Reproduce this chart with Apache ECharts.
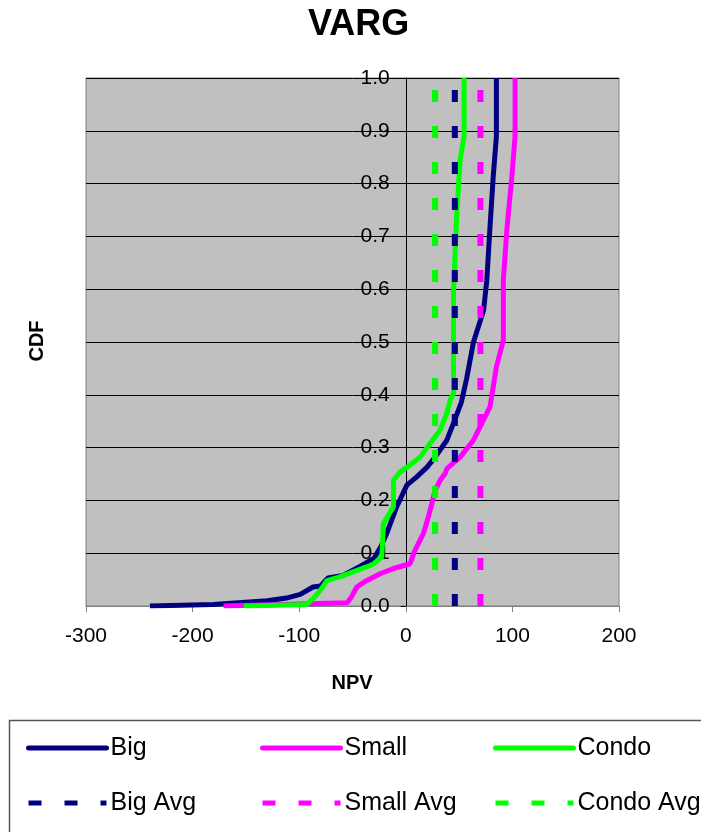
<!DOCTYPE html>
<html>
<head>
<meta charset="utf-8">
<title>VARG</title>
<script src="https://cdn.jsdelivr.net/npm/echarts@6/dist/echarts.min.js"></script>
<style>
  html, body { margin: 0; padding: 0; background: #fff; }
  #main { width: 701px; height: 832px; }
</style>
</head>
<body>
<div id="main"></div>
<script>
// series names, in legend order
var seriesNames = ['Big', 'Small', 'Condo', 'Big Avg', 'Small Avg', 'Condo Avg'];
var seriesColors = ['#000080', '#FF00FF', '#00FF00'];

// CDF curves, [NPV, cumulative probability]
var bigCdf = [[-240, 0], [-181, 0.003], [-130, 0.01], [-112, 0.015], [-99, 0.022], [-87, 0.036],
	[-80, 0.038], [-73, 0.053], [-59, 0.058], [-43, 0.075], [-30, 0.09], [-24, 0.11], [-18, 0.137],
	[-8.5, 0.188], [1, 0.229], [10, 0.244], [20, 0.263], [27.5, 0.282], [38.5, 0.314], [44.7, 0.346],
	[52, 0.385], [57, 0.43], [63.5, 0.5], [73, 0.56], [76, 0.617], [79, 0.718], [82, 0.813],
	[85, 0.89], [85, 1.0]];
var smallCdf = [[-171, 0], [-55, 0.006], [-51, 0.017], [-46, 0.036], [-37, 0.048], [-24, 0.061],
	[-11.6, 0.071], [4, 0.08], [8.7, 0.106], [16.5, 0.137], [21.2, 0.169], [24.4, 0.194], [27.5, 0.219],
	[32.2, 0.238], [36.9, 0.251], [38.5, 0.26], [51, 0.282], [63.5, 0.314], [72.8, 0.352], [79, 0.377],
	[85, 0.453], [91.5, 0.503], [91.5, 0.617], [95, 0.718], [99.5, 0.813], [102.5, 0.89], [102.5, 1.0]];
var condoCdf = [[-152, 0], [-93, 0.003], [-87, 0.014], [-80, 0.03], [-74, 0.048], [-62, 0.055],
	[-37, 0.074], [-30, 0.08], [-22.5, 0.093], [-21, 0.156], [-16.3, 0.172], [-11.6, 0.188],
	[-11.6, 0.238], [-5.3, 0.254], [4, 0.267], [13.4, 0.282], [22.8, 0.308], [32.2, 0.333],
	[38.5, 0.365], [41.6, 0.39], [44.7, 0.402], [44.7, 0.592], [46, 0.655], [48, 0.75], [51, 0.845],
	[54.7, 0.89], [54.7, 1.0]];

// average NPV of each
var avgValues = [46, 70, 27.5];

// axes
var npvTicks = [-300, -200, -100, 0, 100, 200];
var cdfTicks = [0, 0.1, 0.2, 0.3, 0.4, 0.5, 0.6, 0.7, 0.8, 0.9, 1.0];

var font = "'Liberation Sans', Arial, sans-serif";
var myChart = echarts.init(document.getElementById('main'));

var gridLeft = 86, gridRight = 82;
// the y axis sits at NPV = 0, so shift it right from the grid's left edge
var plotWidth = 701 - gridLeft - gridRight;
var yAxisShift = (0 - npvTicks[0]) / (npvTicks[npvTicks.length - 1] - npvTicks[0]) * plotWidth;

var curves = [bigCdf, smallCdf, condoCdf];
var series = [];
for (var i = 0; i < 3; ++i) {
	series.push({
		name: seriesNames[i],
		type: 'line',
		data: curves[i],
		symbol: 'none',
		lineStyle: { color: seriesColors[i], width: 5 },
		itemStyle: { color: seriesColors[i] }
	});
}
for (var i = 0; i < 3; ++i) {
	series.push({
		name: seriesNames[i + 3],
		type: 'line',
		data: [[avgValues[i], cdfTicks[0]], [avgValues[i], cdfTicks[cdfTicks.length - 1]]],
		symbol: 'none',
		lineStyle: { color: seriesColors[i], width: 6, type: [12, 24] },
		itemStyle: { color: seriesColors[i] }
	});
}

// legend: 3 columns x 2 rows, one legend per item
var colLeft = [26, 260, 493];
var rowTop = [735, 790];
var legends = [];
for (var i = 0; i < seriesNames.length; ++i) {
	legends.push({
		left: colLeft[i % 3],
		top: rowTop[(i / 3) << 0],
		padding: 0,
		data: [seriesNames[i]],
		selectedMode: false,
		itemWidth: 78,
		itemHeight: 14,
		itemStyle: { opacity: 0 },
		lineStyle: i < 3 ? { width: 5, cap: 'round' } : { width: 5, type: [13, 23] },
		textStyle: { fontFamily: font, fontSize: 25, lineHeight: 26, color: '#000', padding: [0, 0, 0, -1] }
	});
}

var option = {
	animation: false,
	backgroundColor: '#fff',
	title: {
		text: 'VARG',
		left: 308,
		top: 7,
		padding: 0,
		textStyle: { fontFamily: font, fontSize: 36, fontWeight: 'bold', color: '#000' }
	},
	legend: legends,
	grid: {
		left: gridLeft,
		right: gridRight,
		top: 78,
		bottom: 226,
		show: true,
		backgroundColor: '#C0C0C0',
		borderColor: '#808080',
		borderWidth: 1
	},
	xAxis: {
		type: 'value',
		min: npvTicks[0],
		max: npvTicks[npvTicks.length - 1],
		interval: 100,
		axisLine: { onZero: false, lineStyle: { color: '#808080', width: 1 } },
		axisTick: { show: true, inside: false, length: 6, lineStyle: { color: '#808080' } },
		axisLabel: { fontFamily: font, fontSize: 21, color: '#000', margin: 20 },
		splitLine: { show: false }
	},
	yAxis: {
		type: 'value',
		position: 'left',
		offset: -yAxisShift,
		min: cdfTicks[0],
		max: cdfTicks[cdfTicks.length - 1],
		interval: 0.1,
		axisLine: { show: true, onZero: false, lineStyle: { color: '#000', width: 1 } },
		axisTick: { show: true, inside: false, length: 5, lineStyle: { color: '#000' } },
		axisLabel: {
			fontFamily: font, fontSize: 21, color: '#000', margin: 16,
			formatter: function (v) { return v.toFixed(1); }
		},
		splitLine: { show: true, lineStyle: { color: '#000', width: 1 } }
	},
	graphic: [
		{
			type: 'text',
			x: 37,
			y: 341,
			rotation: Math.PI / 2,
			style: { text: 'CDF', font: 'bold 20px ' + font, fill: '#000', textAlign: 'center', textVerticalAlign: 'middle' }
		},
		{
			type: 'text',
			x: 352,
			y: 683,
			style: { text: 'NPV', font: 'bold 20px ' + font, fill: '#000', textAlign: 'center', textVerticalAlign: 'middle' }
		},
		{
			type: 'rect',
			shape: { x: 9.5, y: 720.5, width: 720, height: 200 },
			style: { fill: 'none', stroke: '#555', lineWidth: 1.5 },
			z: -1
		}
	],
	series: series
};

myChart.setOption(option);
</script>
</body>
</html>
